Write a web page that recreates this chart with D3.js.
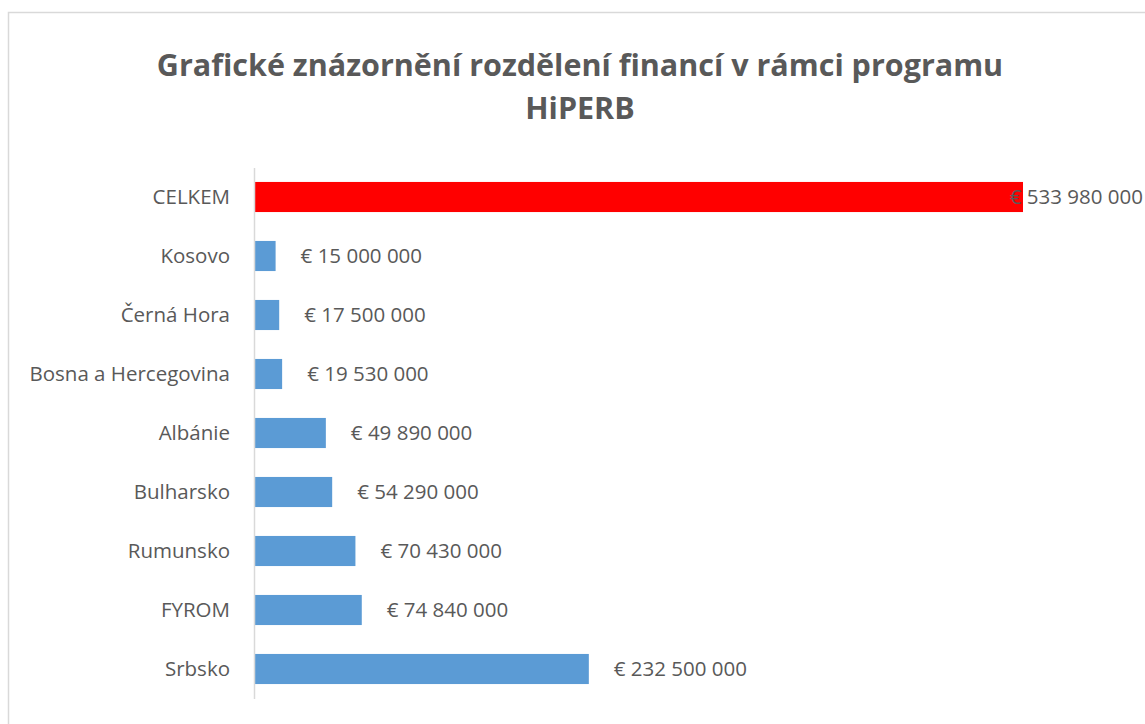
<!DOCTYPE html>
<html><head><meta charset="utf-8">
<script src="https://cdn.jsdelivr.net/npm/d3@7/dist/d3.min.js"></script>
<style>body{margin:0;background:#fff;}svg{display:block;}</style>
</head><body>
<svg id="c" width="1145" height="724"></svg>
<script>
const categories = ["CELKEM","Kosovo","Černá Hora","Bosna a Hercegovina","Albánie","Bulharsko","Rumunsko","FYROM","Srbsko"];
const values = [533980000,15000000,17500000,19530000,49890000,54290000,70430000,74840000,232500000];
const valueLabels = ["€ 533 980 000","€ 15 000 000","€ 17 500 000","€ 19 530 000","€ 49 890 000","€ 54 290 000","€ 70 430 000","€ 74 840 000","€ 232 500 000"];
const titleLines = ["Grafické znázornění rozdělení financí v rámci programu","HiPERB"];

const svg = d3.select("#c");
const W = 1145, H = 724;
const font = "'Open Sans', sans-serif";
const textColor = "#595959";

svg.append("rect").attr("x",8.5).attr("y",12.5).attr("width",W+10).attr("height",H+10)
  .attr("fill","#fff").attr("stroke","#D9D9D9").attr("stroke-width",1.5);

svg.append("g").selectAll("text").data(titleLines).join("text")
  .attr("x",580).attr("y",(d,i)=>76+i*43)
  .attr("text-anchor","middle").attr("font-family",font).attr("font-weight","bold")
  .attr("font-size",30.5).attr("fill",textColor).text(d=>d);

const left = 254, right = 1023;
const x = d3.scaleLinear().domain([0, d3.max(values)]).range([left, right]);
const y = d3.scaleBand().domain(categories).range([167.5, 698.5]).paddingInner(0.49).paddingOuter(0.245);

svg.append("g").selectAll("rect").data(values).join("rect")
  .attr("x",x(0)).attr("y",(d,i)=>y(categories[i]))
  .attr("width",d=>x(d)-x(0)).attr("height",y.bandwidth())
  .attr("fill",(d,i)=>i===0?"#FF0000":"#5B9BD5");

const yAxis = d3.axisLeft(y).tickSize(0).tickPadding(24);
const ga = svg.append("g").attr("transform",`translate(${left},0)`).call(yAxis);
ga.select(".domain").attr("stroke","#D9D9D9").attr("stroke-width",1.5);
ga.selectAll("text").attr("font-family",font).attr("font-size",20.5).attr("fill",textColor);

const vl = svg.append("g").selectAll("text").data(values).join("text")
  .attr("y",(d,i)=>y(categories[i])+y.bandwidth()/2)
  .attr("dy","0.35em").attr("font-family",font).attr("font-size",20.5).attr("fill",textColor)
  .text((d,i)=>valueLabels[i]);
vl.each(function(d){
  const w = this.getComputedTextLength();
  const px = Math.min(x(d)+25, W-2-w);
  d3.select(this).attr("x",px);
});
</script>
</body></html>
